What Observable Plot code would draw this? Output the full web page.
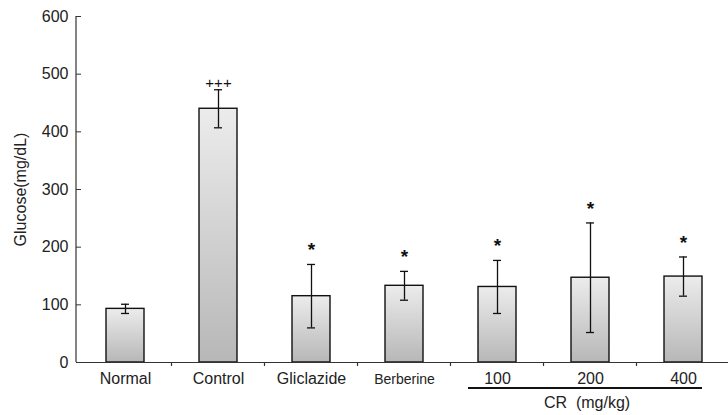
<!DOCTYPE html>
<html><head><meta charset="utf-8">
<script src="https://cdn.jsdelivr.net/npm/d3@7"></script>
<script src="https://cdn.jsdelivr.net/npm/@observablehq/plot@0.6"></script>
<style>
html,body{margin:0;padding:0;background:#fff;}
svg{font-family:"Liberation Sans",Arial,sans-serif;}
</style></head>
<body><div id="chart"></div>
<script>
const groups = ["Normal","Control","Gliclazide","Berberine","100","200","400"];
const means = [93,440,115,133,131,147,149];
const errs = [8,33,55,25,46,95,34];
const sig = ["","+++","*","*","*","*","*"];
const yTicks = [0,100,200,300,400,500,600];
const yLabel = "Glucose(mg/dL)";
const crGroups = ["100","200","400"];
const crLabel = "CR  (mg/kg)";

const data = groups.map((g,i)=>({g, m: means[i], e: errs[i], lo: means[i]-errs[i], hi: means[i]+errs[i], s: sig[i]}));

const plot = Plot.plot({
  width: 728, height: 415,
  marginLeft: 76, marginRight: 0, marginTop: 16, marginBottom: 53,
  style: {fontFamily: "Liberation Sans, Arial, sans-serif", color: "#222", background: "#fff"},
  x: {domain: groups, range: [76, 733], paddingInner: 0.59, paddingOuter: 0.295, axis: null},
  y: {domain: [0,600], axis: null},
  marks: [
    Plot.barY(data, {x: "g", y: "m", fill: "url(#barGrad)", stroke: "#111", strokeWidth: 1.4}),
    Plot.ruleX(data, {x: "g", y1: "lo", y2: "hi", stroke: "#111", strokeWidth: 1.3}),
    Plot.tickY(data, {x: "g", y: "lo", stroke: "#111", strokeWidth: 1.3, insetLeft: 15, insetRight: 15}),
    Plot.tickY(data, {x: "g", y: "hi", stroke: "#111", strokeWidth: 1.3, insetLeft: 15, insetRight: 15}),
    Plot.text(data.filter(d=>d.s==="*"), {x: "g", y: "hi", text: "s", dy: -8, lineAnchor: "bottom", fontSize: 19, fontWeight: "bold", fill: "#111"}),
    Plot.text(data.filter(d=>d.s==="+++"), {x: "g", y: "hi", text: "s", dy: -2, lineAnchor: "bottom", fontSize: 15, fill: "#111"}),
    Plot.ruleY([0], {stroke: "#333", strokeWidth: 1.2}),
    Plot.axisY({ticks: yTicks, tickSize: -5, tickPadding: 13, fontSize: 16, stroke: "#333", label: null}),
    Plot.text([yLabel], {frameAnchor: "left", textAnchor: "middle", rotate: -90, dx: -56, fontSize: 16, fill: "#222", text: d=>d}),
    Plot.text(groups, {x: d=>d, frameAnchor: "bottom", dy: 21, fontSize: d => d==="Berberine" ? 14 : 16, fill: "#222", text: d=>d})
  ]
});
document.getElementById("chart").appendChild(plot);

const svg = d3.select(plot);
const defs = svg.insert("defs", ":first-child");
const grad = defs.append("linearGradient").attr("id","barGrad").attr("x1",0).attr("y1",0).attr("x2",0).attr("y2",1);
grad.append("stop").attr("offset","0%").attr("stop-color","#ececec");
grad.append("stop").attr("offset","100%").attr("stop-color","#b7b7b7");

const xs = plot.scale("x");
const ys = plot.scale("y");
const step = xs.step, bw = xs.bandwidth;
const y0 = ys.apply(0);
// y axis line
svg.append("line").attr("x1",76).attr("x2",76).attr("y1",ys.apply(600)).attr("y2",y0).attr("stroke","#333").attr("stroke-width",1.2);
// x ticks at band boundaries
groups.slice(1).forEach(g=>{
  const x = xs.apply(g) - (step-bw)/2;
  svg.append("line").attr("x1",x).attr("x2",x).attr("y1",y0).attr("y2",y0+4).attr("stroke","#333").attr("stroke-width",1.2);
});
// CR group underline and label
const xa = xs.apply(crGroups[0]) - 10, xb = xs.apply(crGroups[crGroups.length-1]) + bw;
svg.append("line").attr("x1",xa).attr("x2",xb).attr("y1",y0+26).attr("y2",y0+26).attr("stroke","#111").attr("stroke-width",2);
svg.append("text").attr("x",(xa+xb)/2 + 2).attr("y",y0+46).attr("text-anchor","middle").attr("font-size",16).attr("fill","#222").attr("xml:space","preserve").style("white-space","pre").text(crLabel);
</script></body></html>
